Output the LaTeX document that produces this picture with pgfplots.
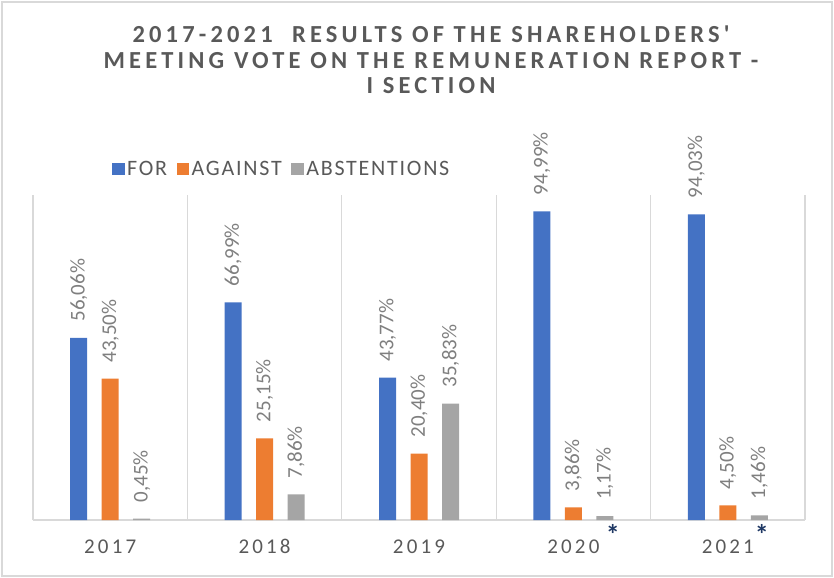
\documentclass[border=0pt]{standalone}
\usepackage{fontspec}
\setmainfont{Carlito}
\newfontfamily\titlefont[LetterSpace=17]{Carlito}
\newfontfamily\tickfont[LetterSpace=15]{Carlito}
\newfontfamily\legfont[LetterSpace=8]{Carlito}
\usepackage{pgfplots}
\pgfplotsset{compat=1.18}
\definecolor{cfor}{HTML}{4472C4}
\definecolor{cagainst}{HTML}{ED7D31}
\definecolor{cabst}{HTML}{A5A5A5}
\definecolor{gridgray}{HTML}{D9D9D9}
\definecolor{txtgray}{HTML}{595959}
\definecolor{lblgray}{HTML}{7F7F7F}
\definecolor{stardark}{HTML}{1F3864}
\begin{document}
\begin{tikzpicture}
\useasboundingbox (-33bp,-58bp) rectangle (801bp,520bp);
\draw[gridgray, line width=1.5bp] (-31bp,-56bp) rectangle (799bp,518bp);
\begin{axis}[
  at={(0,0)}, anchor=south west,
  scale only axis, width=772bp, height=325bp,
  xmin=-0.5, xmax=4.5, ymin=0, ymax=100,
  enlargelimits=false, clip=false,
  ybar=14.5bp, bar width=17bp,
  axis y line=none, axis x line*=bottom,
  xtick={0,1,2,3,4},
  xticklabels={2017,2018,2019,2020,2021},
  major tick length=0pt, minor tick length=0pt,
  minor xtick={-0.5,0.5,1.5,2.5,3.5,4.5},
  xminorgrids=true,
  minor x grid style={color=gridgray, line width=1.2bp},
  x axis line style={color=gridgray, line width=1.5bp, -},
  xticklabel style={font=\tickfont\fontsize{21bp}{21bp}\selectfont, text=txtgray, anchor=base, yshift=-33bp},
  nodes near coords={\pgfmathprintnumber[fixed,fixed zerofill,precision=2,use comma,assume math mode=true]{\pgfplotspointmeta}\%},
  every node near coord/.append style={rotate=90, anchor=west, inner xsep=16bp, inner ysep=0pt, font=\fontsize{21bp}{21bp}\selectfont, text=lblgray},
  legend columns=-1,
  legend style={at={(76bp,351bp)}, anchor=west, draw=none, fill=none,
    font=\legfont\fontsize{22bp}{22bp}\selectfont, text=txtgray,
    nodes={inner sep=2.5bp},
    /tikz/every even column/.append style={column sep=7bp}},
  legend image code/.code={\fill[#1,draw=none] (0bp,-6bp) rectangle (12.5bp,6bp);},
]
\addplot[fill=cfor, draw=none] coordinates {(0,56.06) (1,66.99) (2,43.77) (3,94.99) (4,94.03)};
\addplot[fill=cagainst, draw=none] coordinates {(0,43.50) (1,25.15) (2,20.40) (3,3.86) (4,4.50)};
\addplot[fill=cabst, draw=none] coordinates {(0,0.45) (1,7.86) (2,35.83) (3,1.17) (4,1.46)};
\legend{FOR,AGAINST,ABSTENTIONS}
\node[anchor=base, text=stardark, font=\bfseries\fontsize{28bp}{28bp}\selectfont] at (axis cs:3.256,-7.5) {*};
\node[anchor=base, text=stardark, font=\bfseries\fontsize{28bp}{28bp}\selectfont] at (axis cs:4.22,-7.5) {*};
\end{axis}
\begin{scope}[every node/.style={anchor=base, text=txtgray, font=\titlefont\bfseries\fontsize{24.5bp}{25.5bp}\selectfont}]
\node at (398bp,477bp) {2017-2021\ \ RESULTS OF THE SHAREHOLDERS'};
\node at (398bp,451.5bp) {MEETING VOTE ON THE REMUNERATION REPORT -};
\node at (398bp,426bp) {I SECTION};
\end{scope}
\end{tikzpicture}
\end{document}
